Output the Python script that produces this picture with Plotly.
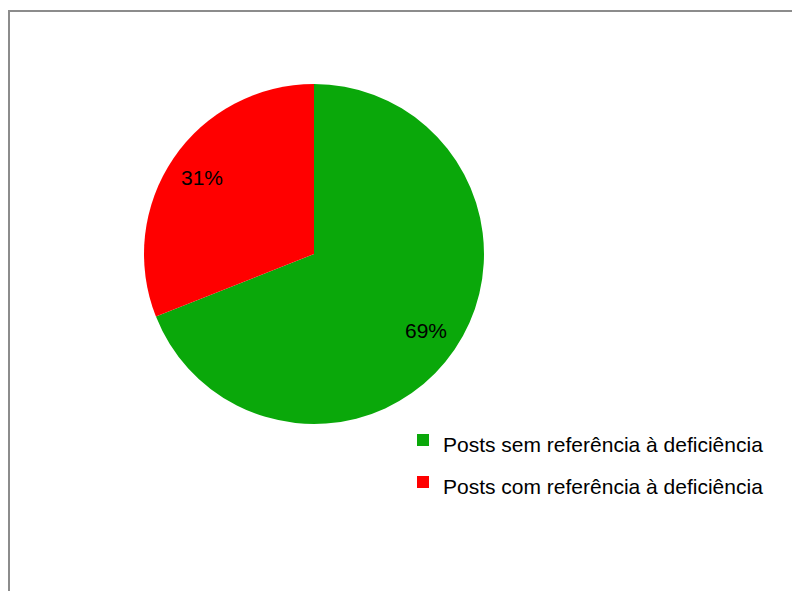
import math
import plotly.graph_objects as go

labels = ["Posts sem referência à deficiência", "Posts com referência à deficiência"]
values = [69, 31]
colors = ["#0AA80A", "#FF0000"]

W, H = 800, 591
# pie placement (figure pixels)
CX, CY, R = 306, 246, 170
FONT = "Liberation Sans, Arial, sans-serif"

fig = go.Figure()
fig.add_trace(go.Pie(
    labels=[f'<span style="font-size:21px">{l}</span>' for l in labels],
    values=values,
    marker=dict(colors=colors, line=dict(width=0)),
    sort=False,
    direction="clockwise",
    rotation=0,
    textinfo="none",
    domain=dict(x=[(CX - R) / W, (CX + R) / W], y=[1 - (CY + R) / H, 1 - (CY - R) / H]),
    hovertemplate="%{label}: %{percent}<extra></extra>",
))

# percentage labels placed at 0.8 R along each slice's mid-angle
total = sum(values)
annotations = []
start = 0.0
for v in values:
    frac = v / total
    mid = (start + frac / 2) * 2 * math.pi
    start += frac
    r = 0.8 * R
    annotations.append(dict(
        x=(CX + r * math.sin(mid)) / W,
        y=1 - (CY - r * math.cos(mid)) / H,
        xref="paper", yref="paper", showarrow=False,
        text=f"{round(frac * 100)}%",
        font=dict(family=FONT, size=21, color="black"),
        xanchor="center", yanchor="middle",
    ))

fig.update_layout(
    width=W, height=H,
    margin=dict(l=0, r=0, t=0, b=0),
    paper_bgcolor="white",
    plot_bgcolor="white",
    showlegend=True,
    annotations=annotations,
    legend=dict(
        x=395 / W, y=1 - 406 / H, xanchor="left", yanchor="top",
        font=dict(family=FONT, size=30, color="black"),
        bgcolor="rgba(0,0,0,0)",
        itemclick=False,
    ),
    shapes=[dict(type="rect", xref="paper", yref="paper",
                 x0=1 / W, x1=1.02, y0=-0.02, y1=1 - 3 / H,
                 line=dict(color="#8c8c8c", width=2), fillcolor="rgba(0,0,0,0)",
                 layer="below")],
)

fig.write_html("out.html")
